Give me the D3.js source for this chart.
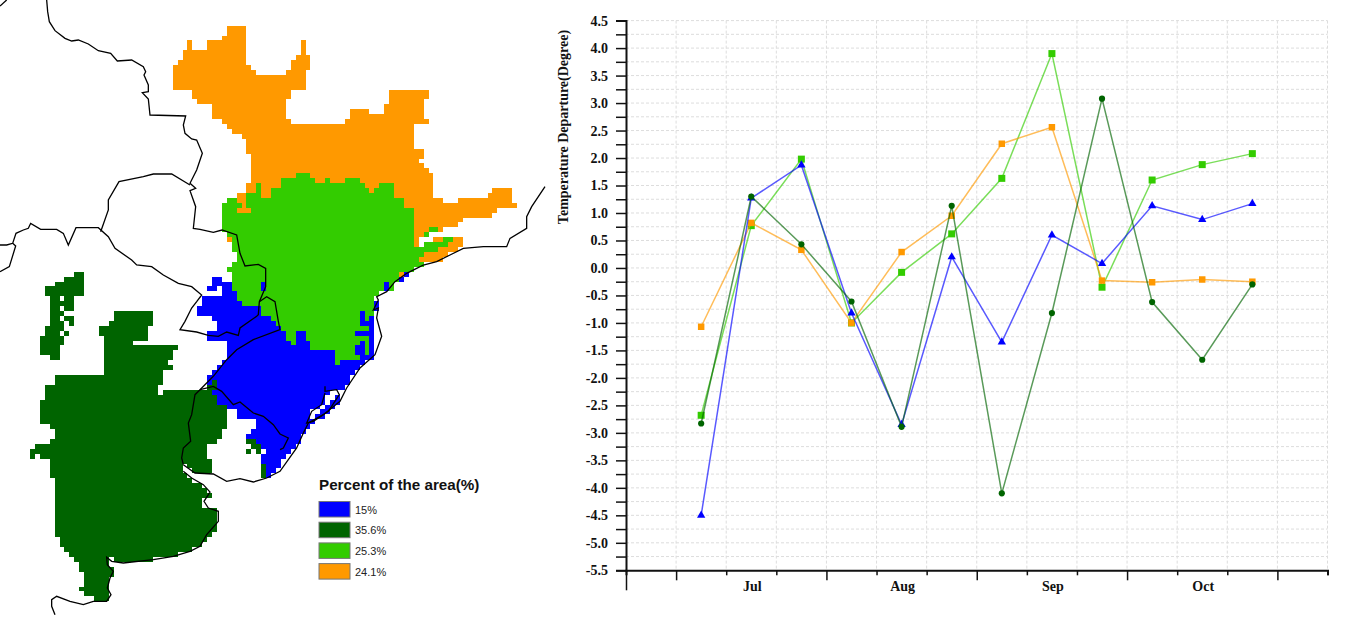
<!DOCTYPE html>
<html>
<head>
<meta charset="utf-8">
<script src="https://cdn.jsdelivr.net/npm/d3@7"></script>
<style>
  html, body { margin: 0; padding: 0; background: #fff; }
  svg { display: block; }
  .axis text { font-family: "Liberation Serif", serif; font-weight: bold; font-size: 14px; fill: #111; }
</style>
</head>
<body>
<svg id="chart" width="1345" height="618"></svg>
<script>
// map cells: [row, from, to, from, to, ...] on the model grid
const orange_rows = [
  [0,40,43],[1,40,43],[2,39,43],[3,32,32,36,43,55,55],[4,32,32,36,43,55,55],[5,31,43,55,55],
  [6,31,43,54,56],[7,30,43,53,56],[8,29,44,53,56],[9,29,45,52,55],[10,29,55],[11,29,55],[12,29,55],
  [13,33,52,73,80],[14,33,52,73,80],[15,34,51,73,79],[16,37,51,72,79],[17,37,51,65,68,72,79],
  [18,37,51,65,79],[19,39,52,64,80],[20,40,77],[21,41,77],[22,43,77],[23,44,77],[24,44,77],
  [25,44,79],[26,45,79],[27,45,78],[28,45,79],[29,45,80],[30,45,53,57,81],
  [31,45,50,58,59,61,63,67,81],[32,44,45,47,50,68,70,74,81],[33,44,45,47,48,69,69,74,81,94,97],
  [34,42,43,47,48,74,81,93,97],[35,42,43,76,83,87,97],[36,43,43,76,98],[37,42,44,78,94],
  [38,78,93],[39,78,87],[40,78,86],[41,78,80,83,83],[42,78,79],[43,40,40,78,78,82,83,86,87],
  [44,78,78,85,87],[45,83,86],[46,80,84],[47,79,83],[50,75,75]
];
const light_green_rows = [
  [30,54,56],[31,51,57,60,60,64,66],[32,46,46,51,67,71,73],[33,46,46,49,68,70,73],[34,44,46,49,73],
  [35,40,41,44,75],[36,39,42,44,75],[37,39,41,45,77],[38,39,77],[39,39,77],[40,39,77],
  [41,39,77,81,82],[42,40,77,80,80],[43,41,77,84,85],[44,41,77,80,84],[45,41,82],[46,42,79],
  [47,42,78],[48,41,79],[49,40,77],[50,41,74],[51,41,74],[52,41,46,48,71,73,73],[53,41,46,48,71,73,73],
  [54,42,70],[55,42,69],[56,43,69],[57,47,69],[58,47,66,68,69],[59,49,66,68,68],[60,50,66],[61,51,68],
  [62,52,53,56,65],[63,52,53,56,68],[64,53,53,57,66,68,68],[65,57,65,68,68],[66,62,65,68,68],[67,62,66],[68,62,62]
];
const blue_rows = [
  [50,76,76],[51,37,38,75,75],[52,37,40,47,47,72,72],[53,36,37,39,40,47,47,72,72],[54,39,41],[55,35,41],
  [56,35,42,70,70],[57,34,46,70,70],[58,34,46,67,67],[59,37,48,67,67,69,69],[60,38,49,67,69],[61,38,50,69,69],
  [62,36,51,54,55,66,69],[63,36,51,54,55,69,69],[64,40,52,54,56,67,67,69,69],[65,40,56,66,67,69,69],
  [66,40,61,66,67,69,69],[67,40,61,67,69],[68,39,61,63,67],[69,38,66],[70,37,65],[71,36,64],
  [72,36,36,38,64],[73,38,63],[74,37,60],[75,38,59,62,62],[76,38,59,61,62],[77,40,58,60,61],
  [78,42,56,59,60],[79,42,56,58,59],[80,46,57],[81,46,56],[82,45,55],[83,44,54],[84,46,54],
  [85,47,53],[86,48,52],[87,47,51],[88,47,50],[89,48,50],[90,48,49],[91,48,48]
];
const dark_green_rows = [
  [50,9,10],[51,7,10],[52,5,10],[53,3,10],[54,3,10],[55,4,5,7,8],[56,4,8],[57,4,5,7,8],
  [58,4,6,17,24],[59,4,5,7,8,17,24],[60,4,6,8,8,16,24],[61,3,6,14,23],[62,3,5,7,7,14,23],
  [63,2,6,15,23],[64,2,6,15,20],[65,2,5,15,29],[66,2,5,15,28],[67,4,5,15,28],[68,15,27],[69,15,28],
  [70,15,26],[71,5,26],[72,5,26,37,37],[73,3,25,36,37],[74,3,25,27,36],[75,3,37],[76,2,37],
  [77,2,39],[78,2,39],[79,2,39],[80,2,39],[81,4,39],[82,5,38],[83,5,38],[84,4,37,44,45],
  [85,1,35,45,46],[86,0,35,44,44,46,46],[87,0,0,2,35],[88,4,36],[89,4,30,32,36,47,47],
  [90,4,30,33,36,47,47],[91,4,31,47,47],[92,5,32],[93,5,34],[94,5,35],[95,5,36],[96,5,34],[97,5,34],
  [98,5,37],[99,5,37],[100,5,37],[101,5,37],[102,5,37],[103,5,36],[104,6,35],[105,6,34],[106,7,32],
  [107,8,29],[108,9,15,17,24],[109,10,15],[110,10,16],[111,11,16],[112,11,15],[113,11,15],
  [114,10,15],[115,11,15],[116,13,15]
];

// country outlines, in map units
const border_lines = [
  [[0,18],[20,0]],
  [[140,0],[143,35],[148,65],[165,92],[195,115],[215,123],[235,120],[265,132],[295,152],[332,160],[352,183],[395,180],[430,200],[437,215],[432,225],[445,255],[445,275],[427,278],[445,297],[450,345],[557,348],[550,375],[555,400],[575,417],[590,420],[607,460],[590,510],[570,550],[587,565],[570,572],[587,620],[580,685],[600,688],[640,697],[666,690],[710,705],[720,760],[735,798],[775,793],[797,805],[797,860],[778,905],[775,944],[770,949],[755,959],[720,984],[715,1006],[680,996],[655,1009],[625,1006],[590,996],[540,989],[555,964],[575,924],[590,905],[605,885],[575,860],[535,850],[490,825],[455,800],[410,795],[395,780],[345,745],[325,710],[295,683],[228,683],[205,735],[190,700],[170,688],[122,688],[92,670],[85,685],[70,690],[48,700],[38,730],[20,735],[0,735]],
  [[0,815],[28,800],[47,738],[38,730]],
  [[302,695],[325,630],[325,600],[357,545],[430,530],[460,522],[515,522],[570,555]],
  [[778,905],[800,890],[825,905],[835,964],[840,989],[760,1019],[710,1049],[680,1079],[640,1129],[600,1169],[585,1184],[575,1244],[565,1269],[572,1324],[550,1344],[545,1374],[550,1394]],
  [[600,1169],[640,1159],[665,1174],[700,1214],[720,1206],[760,1239],[790,1249],[820,1274],[840,1302],[865,1314],[850,1344],[840,1349]],
  // river plate and the coast south of it
  [[550,1414],[575,1434],[610,1454],[630,1476],[612,1504],[625,1524],[655,1534],[655,1564],[620,1604],[600,1639],[570,1654],[520,1669],[460,1679],[370,1689],[335,1684],[320,1672],[322,1694],[340,1714],[330,1734],[322,1764],[333,1784],[320,1804],[280,1804],[250,1814],[210,1804],[170,1789],[155,1799],[155,1819],[165,1844]],
  // atlantic coast, uruguay to the north
  [[550,1394],[585,1419],[640,1422],[680,1444],[720,1436],[760,1446],[800,1434],[840,1414],[890,1344],[910,1299],[925,1269],[970,1244],[1020,1204],[1040,1164],[1080,1104],[1125,1064],[1145,1009],[1130,954],[1135,924],[1120,930],[1135,900],[1130,890],[1160,875],[1185,845],[1220,820],[1250,805],[1270,795],[1310,785],[1350,765],[1390,745],[1450,740],[1520,740],[1530,715],[1580,685],[1580,650],[1595,620],[1615,590],[1635,560]],
  // lagoon
  [[975,1159],[975,1174],[1010,1169],[1018,1184],[985,1234],[940,1264],[920,1269],[935,1234],[965,1214],[975,1179]]
];

const area_colors = ['#0000ff', '#006400', '#33cc00', '#ff9900'];
const area_labels = ['15%', '35.6%', '25.3%', '24.1%'];

// line chart values
const month_labels = ['Jul', 'Aug', 'Sep', 'Oct'];
const month_slots = [2.5, 5.5, 8.5, 11.5];
const point_slots = [1.5, 2.5, 3.5, 4.5, 5.5, 6.5, 7.5, 8.5, 9.5, 10.5, 11.5, 12.5];
const blue_values = [-4.5, 1.27, 1.87, -0.82, -2.85, 0.2, -1.35, 0.6, 0.08, 1.13, 0.88, 1.17];
const dark_green_values = [-2.83, 1.3, 0.43, -0.61, -2.89, 1.13, -4.1, -0.82, 3.08, -0.62, -1.67, -0.3];
const light_green_values = [-2.68, 0.77, 1.98, -1.0, -0.08, 0.62, 1.63, 3.9, -0.35, 1.6, 1.88, 2.08];
const orange_values = [-1.07, 0.82, 0.33, -1.0, 0.29, 0.95, 2.26, 2.56, -0.23, -0.26, -0.21, -0.25];

const svg = d3.select('#chart');

// 1. map
const col_scale = d3.scaleLinear().domain([0, 100]).range([30, 522]);
const row_scale = d3.scaleLinear().domain([0, 117]).range([25.7, 601.3]);
const map_x = d3.scaleLinear().domain([0, 1680]).range([0, 560]);
const map_y = d3.scaleLinear().domain([0, 1854]).range([0, 618]);

function draw_cells(rows, color){
  const runs = [];
  rows.forEach((r) => {
    for(let ii = 1; ii < r.length; ii += 2){
      runs.push({ row: r[0], from: r[ii], to: r[ii + 1] });
    }
  });
  svg.append('g')
    .attr('fill', color)
    .selectAll('rect')
    .data(runs)
    .join('rect')
    .attr('shape-rendering', 'crispEdges')
    .attr('x', (d) => col_scale(d.from))
    .attr('y', (d) => row_scale(d.row))
    .attr('width', (d) => col_scale(d.to + 1) - col_scale(d.from))
    .attr('height', row_scale(1) - row_scale(0));
}

draw_cells(orange_rows, area_colors[3]);
draw_cells(light_green_rows, area_colors[2]);
draw_cells(blue_rows, area_colors[0]);
draw_cells(dark_green_rows, area_colors[1]);

const border_path = d3.line().x((d) => map_x(d[0])).y((d) => map_y(d[1]));
svg.append('g')
  .attr('fill', 'none')
  .attr('stroke', '#000')
  .attr('stroke-width', 1.3)
  .selectAll('path')
  .data(border_lines)
  .join('path')
  .attr('d', border_path);

// legend
const legend = svg.append('g').attr('transform', 'translate(319, 0)');
legend.append('text')
  .attr('x', 0).attr('y', 490)
  .attr('font-family', '"Liberation Sans", Arial, sans-serif')
  .attr('font-weight', 'bold')
  .attr('font-size', 15.2)
  .attr('fill', '#111')
  .text('Percent of the area(%)');

const legend_rows = legend.selectAll('g.row')
  .data(area_labels)
  .join('g')
  .attr('class', 'row')
  .attr('transform', (d, i) => `translate(0, ${ 501.5 + i * 20.7 })`);
legend_rows.append('rect')
  .attr('width', 31).attr('height', 15.5)
  .attr('fill', (d, i) => area_colors[i])
  .attr('stroke', '#777');
legend_rows.append('text')
  .attr('x', 36).attr('y', 12)
  .attr('font-family', '"Liberation Sans", Arial, sans-serif')
  .attr('font-size', 11)
  .attr('fill', '#222')
  .text((d) => d);

// 2. line chart
const x_scale = d3.scaleLinear().domain([0, 14]).range([626, 1327.5]);
const y_scale = d3.scaleLinear().domain([-5.5, 4.5]).range([570.3, 20.6]);
const y_ticks = d3.range(0, 41).map((v) => -5.5 + v * 0.25);
const x_ticks = d3.range(0, 15);

// grid first, lines stay on top
const grid = svg.append('g')
  .attr('stroke', '#ddd')
  .attr('stroke-width', 1)
  .attr('stroke-dasharray', '3,2');
grid.selectAll('line.h')
  .data(y_ticks.slice(1))
  .join('line')
  .attr('class', 'h')
  .attr('x1', x_scale(0)).attr('x2', x_scale(14))
  .attr('y1', (d) => y_scale(d)).attr('y2', (d) => y_scale(d));
grid.selectAll('line.v')
  .data(x_ticks.slice(1))
  .join('line')
  .attr('class', 'v')
  .attr('x1', (d) => x_scale(d)).attr('x2', (d) => x_scale(d))
  .attr('y1', y_scale(4.5)).attr('y2', y_scale(-5.5));

const y_axis = d3.axisLeft(y_scale)
  .tickValues(y_ticks)
  .tickSize(10)
  .tickPadding(8)
  .tickFormat((d) => (Math.round(d * 4) % 2 === 0 ? d.toFixed(1) : ''));
const y_trace = svg.append('g')
  .attr('class', 'axis')
  .attr('transform', `translate(${ x_scale(0) }, 0)`)
  .call(y_axis);
y_trace.select('.domain').attr('stroke-width', 2).attr('stroke', '#111');
y_trace.selectAll('.tick line').attr('stroke-width', 1.5).attr('stroke', '#111');

const x_axis = d3.axisBottom(x_scale).tickValues(x_ticks).tickSize(5).tickFormat('');
const x_trace = svg.append('g')
  .attr('class', 'axis')
  .attr('transform', `translate(0, ${ y_scale(-5.5) })`)
  .call(x_axis);
x_trace.select('.domain').attr('stroke-width', 2).attr('stroke', '#111');
x_trace.selectAll('.tick line')
  .attr('stroke-width', 1.5)
  .attr('stroke', '#111')
  .attr('y2', (d) => (d === 0 ? 20 : (d % 3 === 1 ? 10 : 5)));

x_trace.selectAll('text.month')
  .data(month_labels)
  .join('text')
  .attr('class', 'month')
  .attr('text-anchor', 'middle')
  .attr('x', (d, i) => x_scale(month_slots[i]) + 1)
  .attr('y', 21)
  .text((d) => d);

svg.append('text')
  .attr('transform', `translate(568, 127) rotate(-90)`)
  .attr('text-anchor', 'middle')
  .attr('font-family', '"Liberation Serif", serif')
  .attr('font-weight', 'bold')
  .attr('font-size', 14)
  .attr('fill', '#111')
  .text('Temperature Departure(Degree)');

// draw order follows the reference: dark green over the rest
const series = [
  { values: light_green_values, color: area_colors[2], symbol: d3.symbolSquare, size: 49 },
  { values: orange_values, color: area_colors[3], symbol: d3.symbolSquare, size: 42 },
  { values: blue_values, color: area_colors[0], symbol: d3.symbolTriangle, size: 30 },
  { values: dark_green_values, color: area_colors[1], symbol: d3.symbolCircle, size: 30 }
];

const value_line = d3.line()
  .x((d, i) => x_scale(point_slots[i]))
  .y((d) => y_scale(d));

series.forEach((s) => {
  svg.append('path')
    .attr('fill', 'none')
    .attr('stroke', s.color)
    .attr('stroke-width', 1.5)
    .attr('stroke-opacity', 0.65)
    .attr('d', value_line(s.values));
  svg.append('g')
    .attr('fill', s.color)
    .selectAll('path')
    .data(s.values)
    .join('path')
    .attr('transform', (d, i) => `translate(${ x_scale(point_slots[i]) }, ${ y_scale(d) })`)
    .attr('d', d3.symbol().type(s.symbol).size(s.size));
});
</script>
</body>
</html>
